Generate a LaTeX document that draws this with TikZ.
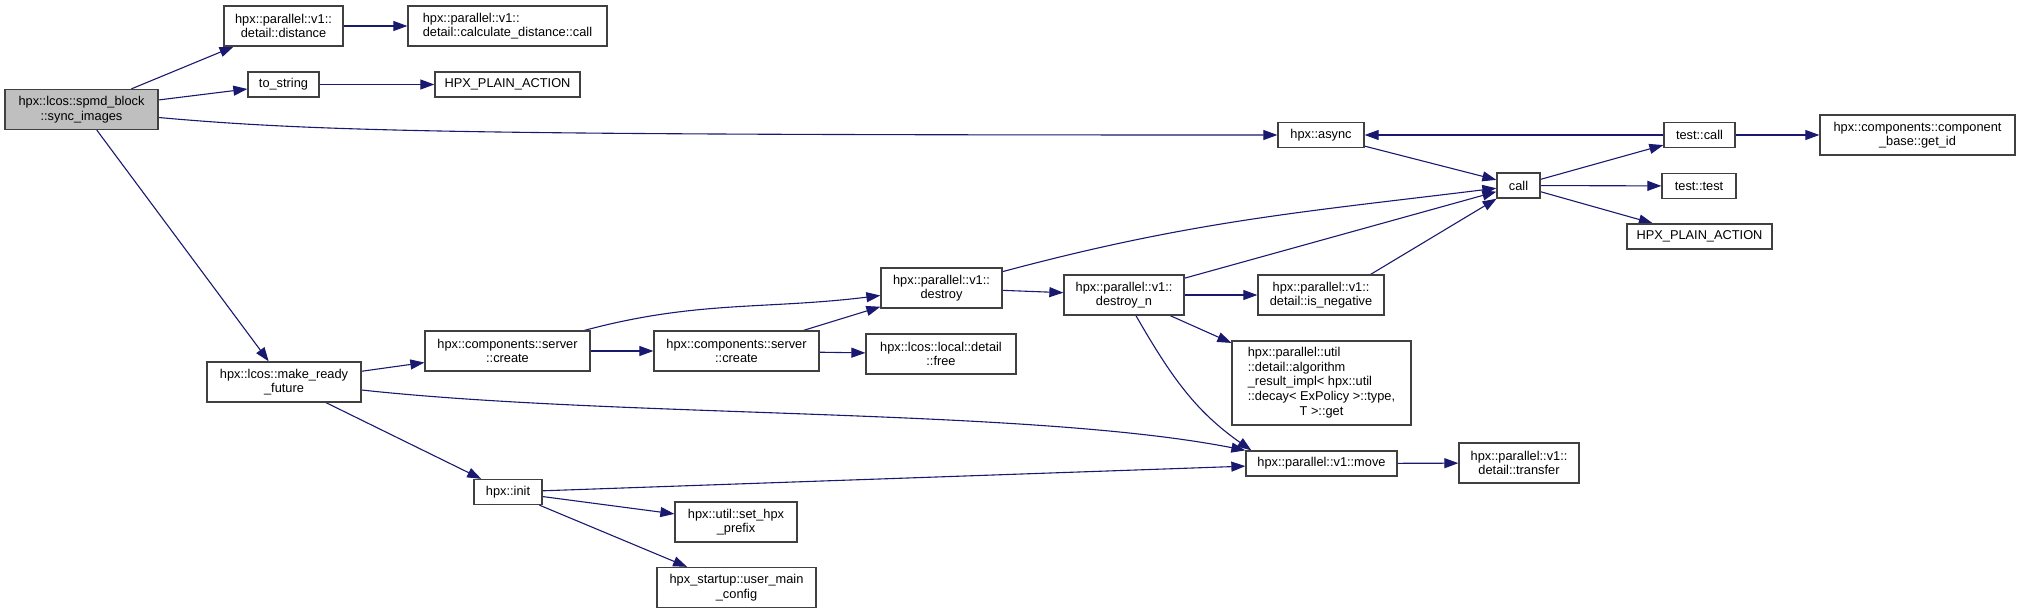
\documentclass[tikz,border=0pt]{standalone}
\usepackage{fontspec}
\setmainfont{Liberation Sans}
\usepackage{tikz}
\usetikzlibrary{arrows.meta,backgrounds}
\definecolor{dgedge}{HTML}{191970}
\definecolor{dgroot}{HTML}{BFBFBF}
\definecolor{dgline}{HTML}{404040}
\tikzset{
  >={Triangle[length=14pt,width=10pt]},
  % knoten
  fn/.style={draw=dgline,fill=white,line width=1.3pt,inner sep=0pt,
             align=center,font=\fontsize{12.8}{14.6}\selectfont},
  one/.style={minimum height=25pt},
  two/.style={minimum height=40pt},
  root/.style={fill=dgroot},
  % kanten
  dep/.style={->,draw=dgedge,line width=1.1pt},
}
\begin{document}
\begin{tikzpicture}[x=1pt,y=-1pt]
  \useasboundingbox (0,0) rectangle (2020,613);
  \node[fn,two,root,minimum width=153pt] (sync) at (81.5,109.5) {hpx::lcos::spmd\_block\\::sync\_images};
  \node[fn,two,minimum width=119pt] (dist) at (283.5,26) {hpx::parallel::v1::\\detail::distance};
  \node[fn,two,minimum width=199pt,align=left] (calcdist) at (507.5,26) {hpx::parallel::v1::\\detail::calculate\_distance::call};
  \node[fn,one,minimum width=71pt] (tostr) at (283.5,84.5) {to\_string};
  \node[fn,one,minimum width=145pt] (plaina) at (507.5,84.5) {HPX\_PLAIN\_ACTION};
  \node[fn,one,minimum width=86pt] (async) at (1321,135) {hpx::async};
  \node[fn,one,minimum width=43pt] (call) at (1518.5,185.5) {call};
  \node[fn,one,minimum width=71pt] (testcall) at (1699.5,135) {test::call};
  \node[fn,two,minimum width=195pt] (getid) at (1917.5,135) {hpx::components::component\\\_base::get\_id};
  \node[fn,one,minimum width=74pt] (testtest) at (1699,186) {test::test};
  \node[fn,one,minimum width=145pt] (plainb) at (1699.5,236.5) {HPX\_PLAIN\_ACTION};
  \node[fn,two,minimum width=154pt] (mrf) at (284,382) {hpx::lcos::make\_ready\\\_future};
  \node[fn,two,minimum width=165pt] (createa) at (507.5,351) {hpx::components::server\\::create};
  \node[fn,two,minimum width=165pt] (createb) at (736.5,351) {hpx::components::server\\::create};
  \node[fn,two,minimum width=121pt] (destroy) at (941.5,288) {hpx::parallel::v1::\\destroy};
  \node[fn,two,minimum width=120pt] (destroyn) at (1124,295) {hpx::parallel::v1::\\destroy\_n};
  \node[fn,two,minimum width=126pt] (isneg) at (1321,295) {hpx::parallel::v1::\\detail::is\_negative};
  \node[fn,two,minimum width=150pt] (free) at (941,354) {hpx::lcos::local::detail\\::free};
  \node[fn,minimum width=179pt,minimum height=84pt] (algo) at (1321.5,383)
    {\begin{tabular}{@{}l@{}}hpx::parallel::util\\::detail::algorithm\\\_result\_impl< hpx::util\\::decay< ExPolicy >::type,\\\multicolumn{1}{@{}c@{}}{T >::get}\end{tabular}};
  \node[fn,one,minimum width=151pt] (move) at (1321.5,463.5) {hpx::parallel::v1::move};
  \node[fn,two,minimum width=120pt] (transfer) at (1519,463) {hpx::parallel::v1::\\detail::transfer};
  \node[fn,one,minimum width=68pt] (init) at (508,492) {hpx::init};
  \node[fn,two,minimum width=122pt] (prefix) at (736,522) {hpx::util::set\_hpx\\\_prefix};
  \node[fn,two,minimum width=159pt] (umc) at (736.5,587.5) {hpx\_startup::user\_main\\\_config};
  \begin{scope}[on background layer]
  \draw[dep] (sync) -- (dist);
  \draw[dep] (sync) -- (tostr);
  \draw[dep] ([yshift=-8pt]sync.east) .. controls (320,132) and (480,135) .. (async.west);
  \draw[dep] (sync) -- (mrf);
  \draw[dep] (dist) -- (calcdist);
  \draw[dep] (tostr) -- (plaina);
  \draw[dep] (async) -- (call);
  \draw[dep] (testcall) -- (async);
  \draw[dep] (testcall) -- (getid);
  \draw[dep] (call) -- (testcall);
  \draw[dep] (call) -- (testtest);
  \draw[dep] (call) -- (plainb);
  \draw[dep] (destroy) to[out=15,in=187] (call);
  \draw[dep] (destroyn) -- (call);
  \draw[dep] ([xshift=-14pt]isneg.north east) -- (call);
  \draw[dep] (mrf) -- (createa);
  \draw[dep] ([yshift=-8pt]mrf.east) .. controls (620,418) and (1030,408) .. (move.north west);
  \draw[dep] (mrf) -- (init);
  \draw[dep] (createa) to[out=15,in=187] (destroy);
  \draw[dep] (createa) -- (createb);
  \draw[dep] (createb) -- (destroy);
  \draw[dep] (createb) -- (free);
  \draw[dep] (destroy) -- (destroyn);
  \draw[dep] (destroyn) -- (isneg);
  \draw[dep] (destroyn) -- (algo);
  \draw[dep] (destroyn) to[out=-60,in=145] ([xshift=6pt]move.north west);
  \draw[dep] (init) -- (move);
  \draw[dep] (init) -- (prefix);
  \draw[dep] (init) -- (umc);
  \draw[dep] (move) -- (transfer);
  \end{scope}
\end{tikzpicture}
\end{document}
